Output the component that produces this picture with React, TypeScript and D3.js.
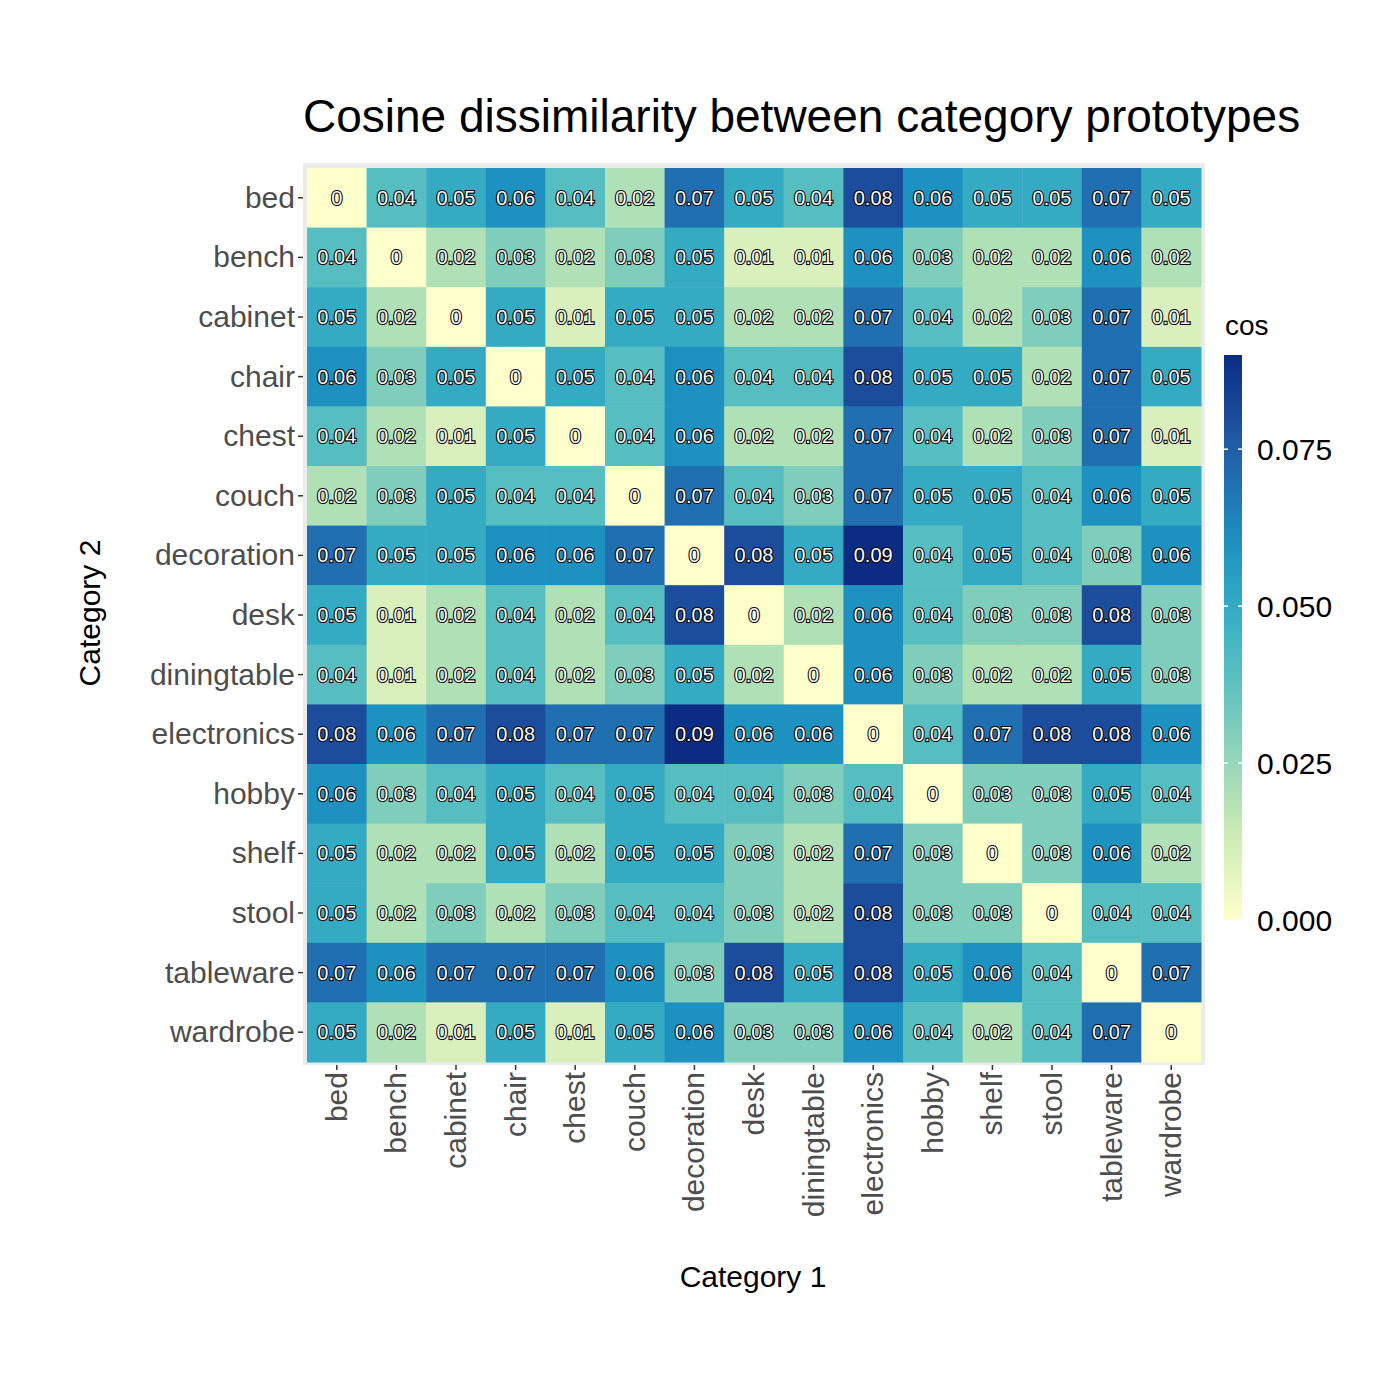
import * as d3 from "d3";

const categories = ["bed","bench","cabinet","chair","chest","couch","decoration","desk","diningtable","electronics","hobby","shelf","stool","tableware","wardrobe"];

// rows = Category 2 (top to bottom), columns = Category 1
const values = [
  [0,.04,.05,.06,.04,.02,.07,.05,.04,.08,.06,.05,.05,.07,.05],
  [.04,0,.02,.03,.02,.03,.05,.01,.01,.06,.03,.02,.02,.06,.02],
  [.05,.02,0,.05,.01,.05,.05,.02,.02,.07,.04,.02,.03,.07,.01],
  [.06,.03,.05,0,.05,.04,.06,.04,.04,.08,.05,.05,.02,.07,.05],
  [.04,.02,.01,.05,0,.04,.06,.02,.02,.07,.04,.02,.03,.07,.01],
  [.02,.03,.05,.04,.04,0,.07,.04,.03,.07,.05,.05,.04,.06,.05],
  [.07,.05,.05,.06,.06,.07,0,.08,.05,.09,.04,.05,.04,.03,.06],
  [.05,.01,.02,.04,.02,.04,.08,0,.02,.06,.04,.03,.03,.08,.03],
  [.04,.01,.02,.04,.02,.03,.05,.02,0,.06,.03,.02,.02,.05,.03],
  [.08,.06,.07,.08,.07,.07,.09,.06,.06,0,.04,.07,.08,.08,.06],
  [.06,.03,.04,.05,.04,.05,.04,.04,.03,.04,0,.03,.03,.05,.04],
  [.05,.02,.02,.05,.02,.05,.05,.03,.02,.07,.03,0,.03,.06,.02],
  [.05,.02,.03,.02,.03,.04,.04,.03,.02,.08,.03,.03,0,.04,.04],
  [.07,.06,.07,.07,.07,.06,.03,.08,.05,.08,.05,.06,.04,0,.07],
  [.05,.02,.01,.05,.01,.05,.06,.03,.03,.06,.04,.02,.04,.07,0],
];

const legendTicks = [0, 0.025, 0.05, 0.075];
const palette = ["#FFFFCC","#C7E9B4","#7FCDBB","#41B6C4","#1D91C0","#225EA8","#0C2C84"];
const maxVal = 0.09;

const font = "Liberation Sans, Arial, sans-serif";

export default function App() {
  const x = d3.scaleBand(categories, [307, 1201]);
  const y = d3.scaleBand(categories, [168, 1062]);
  const color = d3.scaleLinear<string>()
    .domain(palette.map((_, i) => (i / (palette.length - 1)) * maxVal))
    .range(palette)
    .interpolate(d3.interpolateRgb);
  const ly = d3.scaleLinear([0, maxVal], [920, 355]);
  const grad = d3.range(0, 1.0001, 0.05);

  return (
    <svg width={1400} height={1400} style={{ position: "absolute", left: 0, top: 0, fontFamily: font }}>
      <rect width={1400} height={1400} fill="white" />
      <text x={303} y={132} fontSize={46} fill="black">Cosine dissimilarity between category prototypes</text>
      <rect x={303} y={163} width={902} height={902} fill="#EBEBEB" />
      {values.map((row, i) => row.map((v, j) => (
        <rect key={`r${i}-${j}`} x={x(categories[j])} y={y(categories[i])} width={x.bandwidth() + 0.5} height={y.bandwidth() + 0.5} fill={color(v)} />
      )))}
      {values.map((row, i) => row.map((v, j) => (
        <text key={`t${i}-${j}`} x={x(categories[j])! + x.bandwidth() / 2} y={y(categories[i])! + y.bandwidth() / 2 + 7}
          textAnchor="middle" fontSize={20} fill="white" stroke="black" strokeWidth={2.2}
          style={{ paintOrder: "stroke" }}>{v === 0 ? "0" : String(v)}</text>
      )))}
      {categories.map(c => (
        <g key={"y" + c}>
          <line x1={298} x2={303} y1={y(c)! + y.bandwidth() / 2} y2={y(c)! + y.bandwidth() / 2} stroke="#333" strokeWidth={1.5} />
          <text x={295} y={y(c)! + y.bandwidth() / 2 + 10} textAnchor="end" fontSize={30} fill="#4D4D4D">{c}</text>
        </g>
      ))}
      {categories.map(c => {
        const cx = x(c)! + x.bandwidth() / 2;
        return (
          <g key={"x" + c}>
            <line x1={cx} x2={cx} y1={1065} y2={1070} stroke="#333" strokeWidth={1.5} />
            <text transform={`translate(${cx + 10},1072) rotate(-90)`} textAnchor="end" fontSize={30} fill="#4D4D4D">{c}</text>
          </g>
        );
      })}
      <text x={753} y={1287} textAnchor="middle" fontSize={30} fill="black">Category 1</text>
      <text transform="translate(100,613) rotate(-90)" textAnchor="middle" fontSize={30} fill="black">Category 2</text>
      <text x={1225} y={335} fontSize={28} fill="black">cos</text>
      <defs>
        <linearGradient id="lg" x1="0" y1="1" x2="0" y2="0">
          {grad.map(t => <stop key={t} offset={t} stopColor={color(t * maxVal)} />)}
        </linearGradient>
      </defs>
      <rect x={1224} y={355} width={18} height={565} fill="url(#lg)" />
      {legendTicks.map(t => (
        <g key={"l" + t}>
          <line x1={1224} x2={1228} y1={ly(t)} y2={ly(t)} stroke="white" strokeWidth={1.5} />
          <line x1={1238} x2={1242} y1={ly(t)} y2={ly(t)} stroke="white" strokeWidth={1.5} />
          <text x={1257} y={ly(t) + 11} fontSize={30} fill="black">{t.toFixed(3)}</text>
        </g>
      ))}
    </svg>
  );
}
